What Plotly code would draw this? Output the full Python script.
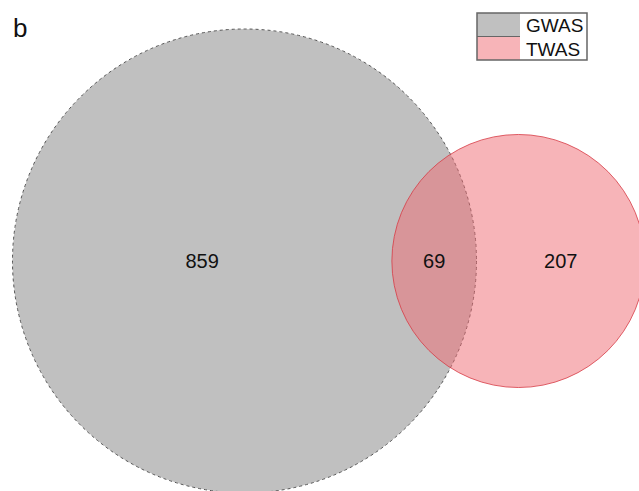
import math
import plotly.graph_objects as go

# Set sizes for the two-way Venn diagram
set_names = ["GWAS", "TWAS"]
only_counts = [859, 207]
shared_count = 69
panel_label = "b"

W, H = 639, 491
px_per_item = 7.616  # radius scale: r = px_per_item * sqrt(n)

totals = [only_counts[0] + shared_count, only_counts[1] + shared_count]
r1 = px_per_item * math.sqrt(totals[0])
r2 = px_per_item * math.sqrt(totals[1])
area_per_item = math.pi * r1 ** 2 / totals[0]
target_overlap = shared_count * area_per_item


def lens_area(d, a, b):
    if d >= a + b:
        return 0.0
    if d <= abs(a - b):
        return math.pi * min(a, b) ** 2
    d1 = (d * d + a * a - b * b) / (2 * d)
    d2 = d - d1
    s1 = a * a * math.acos(d1 / a) - d1 * math.sqrt(a * a - d1 * d1)
    s2 = b * b * math.acos(d2 / b) - d2 * math.sqrt(b * b - d2 * d2)
    return s1 + s2


# centre distance giving an overlap area proportional to the shared count
lo, hi = abs(r1 - r2), r1 + r2
for _ in range(80):
    mid = (lo + hi) / 2
    if lens_area(mid, r1, r2) > target_overlap:
        lo = mid
    else:
        hi = mid
dist = (lo + hi) / 2

cx1, cy = 244.5, 261.0
cx2 = cx1 + dist

gray_fill = "#c0c0c0"
pink_fill = "rgba(240,106,114,0.5)"
font_family = "Arial, Liberation Sans, sans-serif"

shapes = [
    dict(type="circle", xref="x", yref="y",
         x0=cx1 - r1, x1=cx1 + r1, y0=cy - r1, y1=cy + r1,
         fillcolor=gray_fill, line=dict(color="#555555", width=1, dash="dot"),
         layer="below"),
    dict(type="circle", xref="x", yref="y",
         x0=cx2 - r2, x1=cx2 + r2, y0=cy - r2, y1=cy + r2,
         fillcolor=pink_fill, line=dict(color="rgba(215,60,70,0.8)", width=1),
         layer="below"),
]

# region label positions: middle of each region along the centre line
left1, right1 = cx1 - r1, cx1 + r1
left2, right2 = cx2 - r2, cx2 + r2
label_x = [(left1 + left2) / 2, (left2 + right1) / 2, (right1 + right2) / 2]
label_text = [str(only_counts[0]), str(shared_count), str(only_counts[1])]

fig = go.Figure()
fig.add_trace(go.Scatter(
    x=label_x, y=[cy + 2] * 3, mode="text", text=label_text,
    textfont=dict(family=font_family, size=20, color="#111111"),
    hoverinfo="skip", showlegend=False,
))

# legend box
lx0, lx1, ly0, ly1 = 477, 587, 13, 60
sw = 43
ymid = (ly0 + ly1) / 2
legend_fills = ["#c0c0c0", "#f7b4b8"]
shapes += [
    dict(type="rect", xref="x", yref="y", x0=lx0, x1=lx0 + sw, y0=ly0, y1=ymid,
         fillcolor=legend_fills[0], line=dict(width=0)),
    dict(type="rect", xref="x", yref="y", x0=lx0, x1=lx0 + sw, y0=ymid, y1=ly1,
         fillcolor=legend_fills[1], line=dict(width=0)),
    dict(type="line", xref="x", yref="y", x0=lx0, x1=lx0 + sw, y0=ymid, y1=ymid,
         line=dict(color="#666666", width=1)),
    dict(type="rect", xref="x", yref="y", x0=lx0, x1=lx1, y0=ly0, y1=ly1,
         fillcolor="rgba(0,0,0,0)", line=dict(color="#666666", width=1.5)),
]

annotations = [
    dict(x=lx0 + sw + 4, y=(ly0 + ymid) / 2 + 1, text=set_names[0], xref="x", yref="y",
         xanchor="left", yanchor="middle", showarrow=False,
         font=dict(family=font_family, size=19, color="#111111")),
    dict(x=lx0 + sw + 4, y=(ymid + ly1) / 2 + 1, text=set_names[1], xref="x", yref="y",
         xanchor="left", yanchor="middle", showarrow=False,
         font=dict(family=font_family, size=19, color="#111111")),
    dict(x=11, y=28, text=panel_label, xref="x", yref="y",
         xanchor="left", yanchor="middle", showarrow=False,
         font=dict(family=font_family, size=26, color="#111111")),
]

fig.update_layout(
    width=W, height=H,
    margin=dict(l=0, r=0, t=0, b=0),
    paper_bgcolor="white", plot_bgcolor="white",
    xaxis=dict(range=[0, W], visible=False, fixedrange=True),
    yaxis=dict(range=[H, 0], visible=False, fixedrange=True),
    shapes=shapes, annotations=annotations,
    showlegend=False,
)

fig.write_html("out.html")
